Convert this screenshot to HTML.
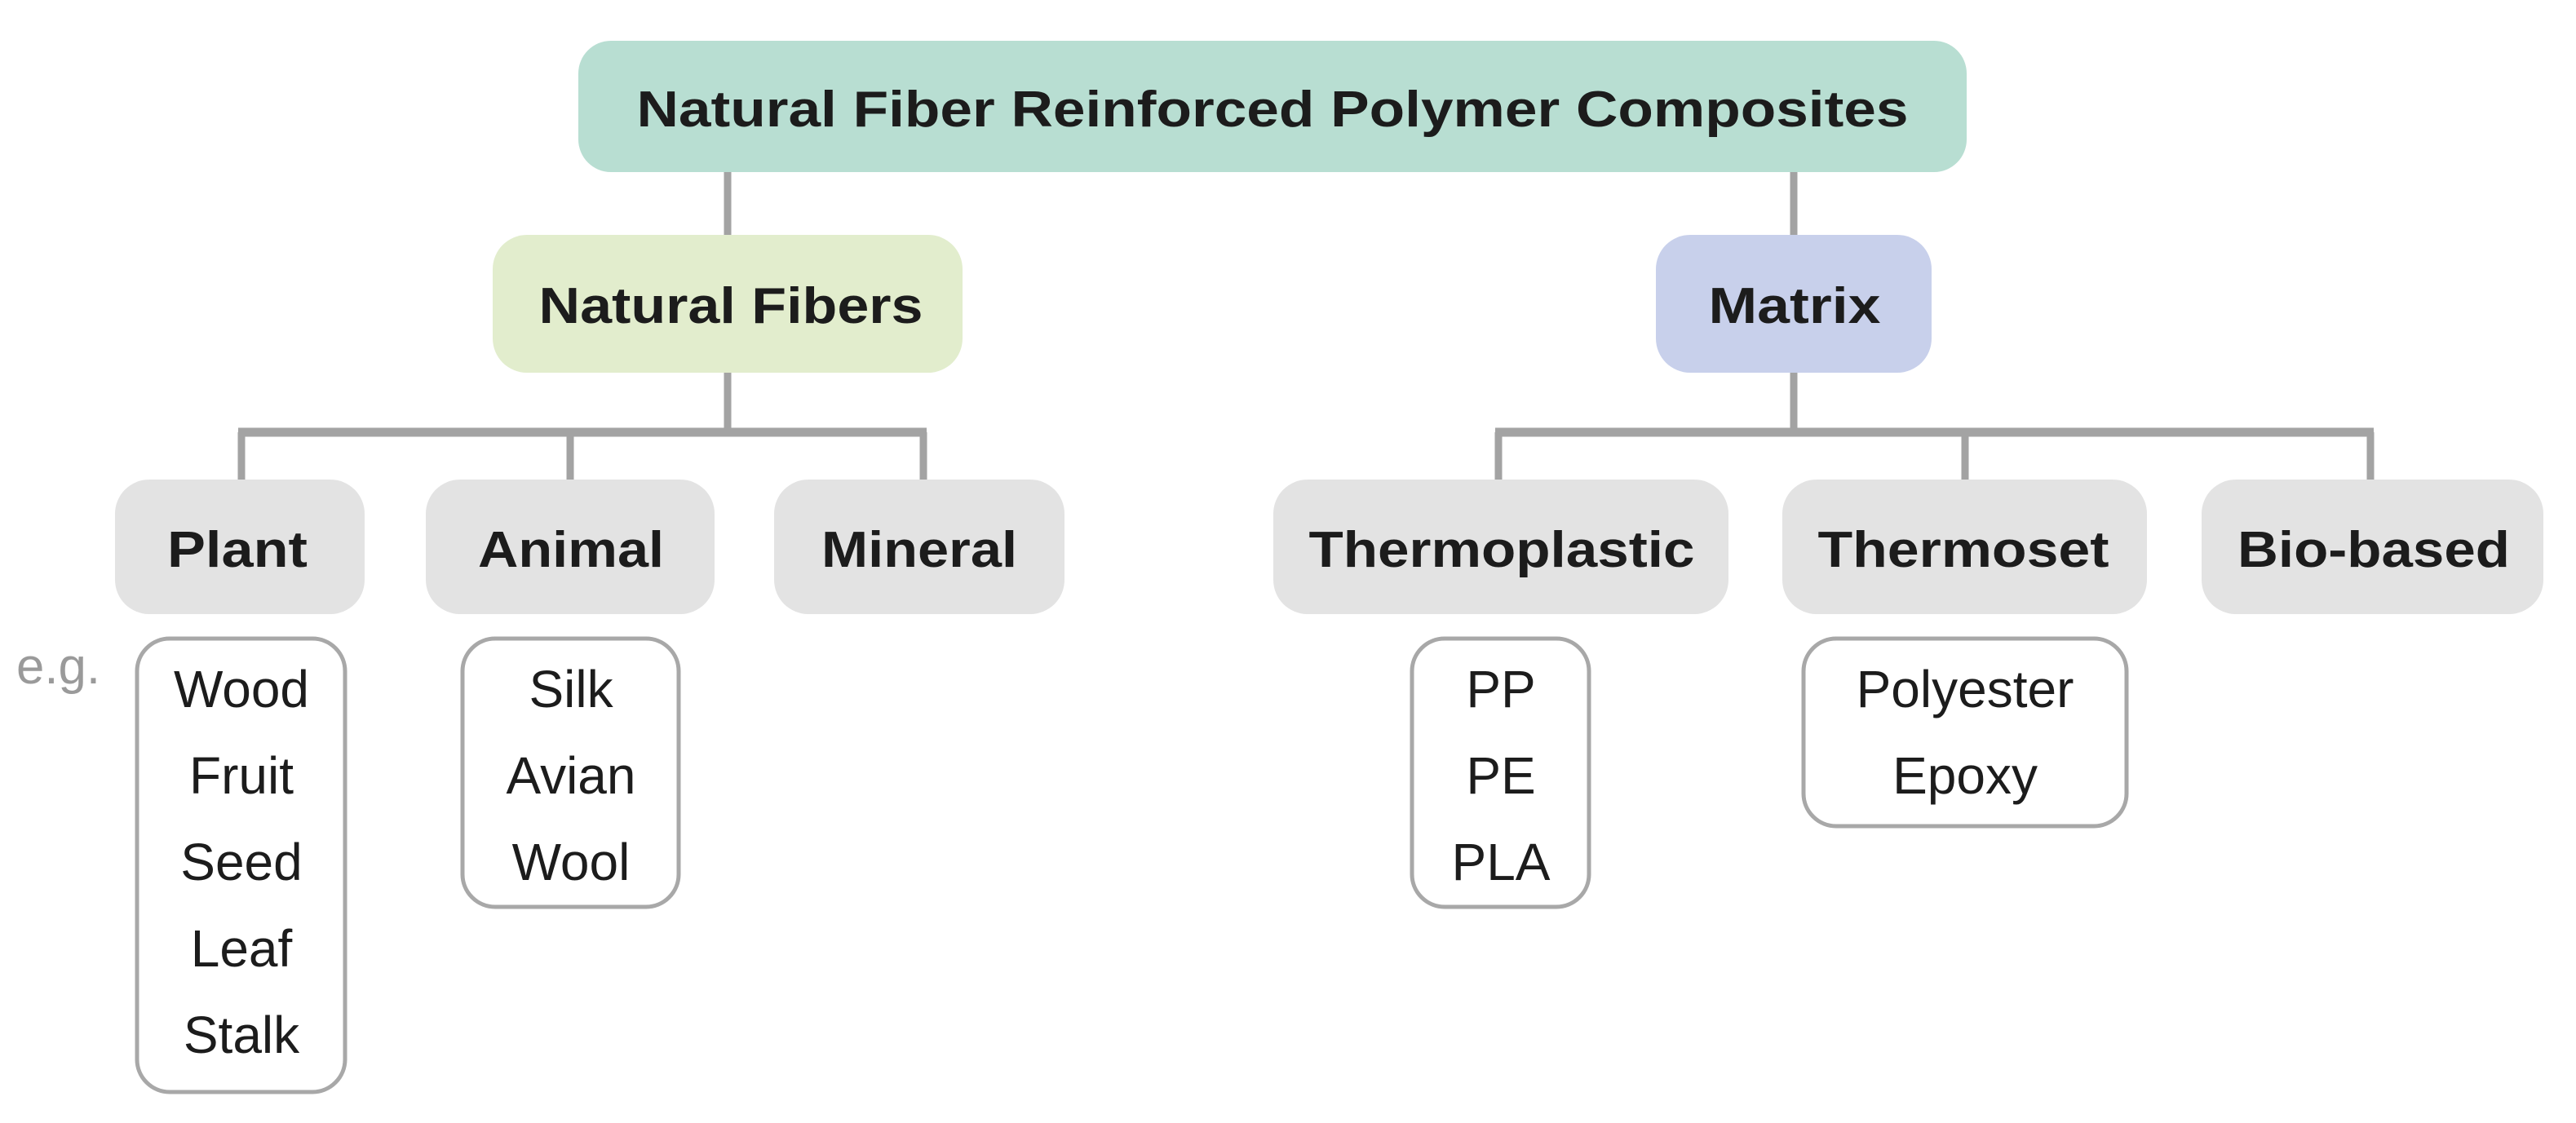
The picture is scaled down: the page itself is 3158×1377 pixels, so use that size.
<!DOCTYPE html>
<html><head><meta charset="utf-8"><style>
html,body{margin:0;padding:0;background:#fff;width:3158px;height:1377px;overflow:hidden}
svg{display:block}
.b{font-family:"Liberation Sans",sans-serif;font-weight:bold;fill:#1c1c1c;font-size:62px}
.r{font-family:"Liberation Sans",sans-serif;fill:#1c1c1c;font-size:64px}
</style></head><body>
<svg width="3158" height="1377" viewBox="0 0 3158 1377" xmlns="http://www.w3.org/2000/svg">
<g stroke="#a3a3a3" stroke-width="9" fill="none">
<line x1="892" y1="211" x2="892" y2="290"/>
<line x1="2199" y1="211" x2="2199" y2="290"/>
<line x1="892" y1="457" x2="892" y2="530"/>
<line x1="2199" y1="457" x2="2199" y2="530"/>
<line x1="292" y1="530" x2="1136" y2="530" stroke-width="11"/>
<line x1="1833" y1="530" x2="2910" y2="530" stroke-width="11"/>
<line x1="296" y1="530" x2="296" y2="590"/>
<line x1="699" y1="530" x2="699" y2="590"/>
<line x1="1132" y1="530" x2="1132" y2="590"/>
<line x1="1837" y1="530" x2="1837" y2="590"/>
<line x1="2409" y1="530" x2="2409" y2="590"/>
<line x1="2906" y1="530" x2="2906" y2="590"/>
</g>
<rect x="709" y="50" width="1702" height="161" rx="40" fill="#b8ded2"/>
<rect x="604" y="288" width="576" height="169" rx="42" fill="#e2edcd"/>
<rect x="2030" y="288" width="338" height="169" rx="42" fill="#c8d0eb"/>
<g fill="#e3e3e3">
<rect x="141" y="588" width="306" height="165" rx="42"/>
<rect x="522" y="588" width="354" height="165" rx="42"/>
<rect x="949" y="588" width="356" height="165" rx="42"/>
<rect x="1561" y="588" width="558" height="165" rx="42"/>
<rect x="2185" y="588" width="447" height="165" rx="42"/>
<rect x="2699" y="588" width="419" height="165" rx="42"/>
</g>
<g fill="#fff" stroke="#a8a8a8" stroke-width="5">
<rect x="168" y="783" width="255" height="556" rx="40"/>
<rect x="567" y="783" width="265" height="329" rx="40"/>
<rect x="1731" y="783" width="217" height="329" rx="40"/>
<rect x="2211" y="783" width="396" height="230" rx="40"/>
</g>
<text class="b" x="1560" y="155" text-anchor="middle" textLength="1559" lengthAdjust="spacingAndGlyphs">Natural Fiber Reinforced Polymer Composites</text>
<text class="b" x="896" y="396" text-anchor="middle" textLength="471" lengthAdjust="spacingAndGlyphs">Natural Fibers</text>
<text class="b" x="2200" y="396" text-anchor="middle" textLength="211" lengthAdjust="spacingAndGlyphs">Matrix</text>
<text class="b" x="291" y="695" text-anchor="middle" textLength="172" lengthAdjust="spacingAndGlyphs">Plant</text>
<text class="b" x="700" y="695" text-anchor="middle" textLength="228" lengthAdjust="spacingAndGlyphs">Animal</text>
<text class="b" x="1127" y="695" text-anchor="middle" textLength="240" lengthAdjust="spacingAndGlyphs">Mineral</text>
<text class="b" x="1841" y="695" text-anchor="middle" textLength="473" lengthAdjust="spacingAndGlyphs">Thermoplastic</text>
<text class="b" x="2407" y="695" text-anchor="middle" textLength="357" lengthAdjust="spacingAndGlyphs">Thermoset</text>
<text class="b" x="2910" y="695" text-anchor="middle" textLength="334" lengthAdjust="spacingAndGlyphs">Bio-based</text>
<text x="20" y="838" font-family="Liberation Sans,sans-serif" font-size="62" fill="#9a9a9a" textLength="103" lengthAdjust="spacingAndGlyphs">e.g.</text>
<g class="r" text-anchor="middle">
<text x="296" y="867">Wood</text>
<text x="296" y="973">Fruit</text>
<text x="296" y="1079">Seed</text>
<text x="296" y="1185">Leaf</text>
<text x="296" y="1291">Stalk</text>
<text x="700" y="867">Silk</text>
<text x="700" y="973">Avian</text>
<text x="700" y="1079">Wool</text>
<text x="1840" y="867">PP</text>
<text x="1840" y="973">PE</text>
<text x="1840" y="1079">PLA</text>
<text x="2409" y="867">Polyester</text>
<text x="2409" y="973">Epoxy</text>
</g>
</svg>
</body></html>
